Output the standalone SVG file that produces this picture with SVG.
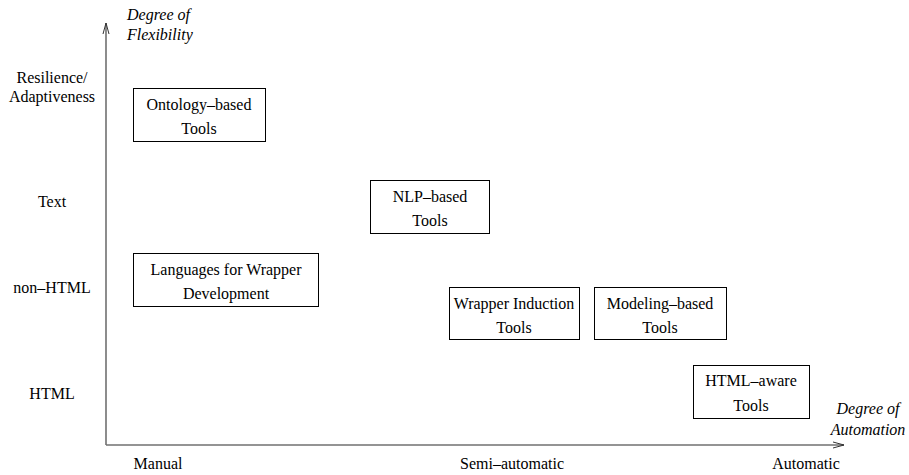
<svg xmlns="http://www.w3.org/2000/svg" width="909" height="475" viewBox="0 0 909 475">
<style>
text{font-family:"Liberation Serif","Times New Roman",serif;font-size:16px;fill:#000}
.c{text-anchor:middle}
.i{font-style:italic}
.box{fill:#fff;stroke:#000;stroke-width:1}
.axis{stroke:#707070;stroke-width:1.6;fill:none}
</style>
<defs>
<marker id="ah" markerWidth="12" markerHeight="8" refX="11" refY="4" orient="auto" markerUnits="userSpaceOnUse">
<path d="M0,1 L11,4 L0,7" fill="none" stroke="#333" stroke-width="1"/>
</marker>
</defs>
<rect width="909" height="475" fill="#fff"/>
<g id="connectors">
<line class="axis" x1="106" y1="445" x2="106" y2="23" marker-end="url(#ah)"/>
<line class="axis" x1="106" y1="445" x2="844" y2="445" marker-end="url(#ah)"/>
</g>
<g id="axis-labels">
<text class="i" x="127" y="20">Degree of</text>
<text class="i" x="127" y="40">Flexibility</text>
<text class="i c" x="868" y="414">Degree of</text>
<text class="i c" x="868" y="435">Automation</text>
<text class="c" x="52" y="83">Resilience/</text>
<text class="c" x="52" y="102">Adaptiveness</text>
<text class="c" x="52" y="207">Text</text>
<text class="c" x="52" y="293">non–HTML</text>
<text class="c" x="52" y="399">HTML</text>
<text class="c" x="158" y="469">Manual</text>
<text class="c" x="512" y="469">Semi–automatic</text>
<text class="c" x="806" y="469">Automatic</text>
</g>
<g id="ontology">
<rect class="box" x="133.5" y="88.5" width="132" height="53"/>
<text class="c" x="199" y="110">Ontology–based</text>
<text class="c" x="199" y="134">Tools</text>
</g>
<g id="nlp">
<rect class="box" x="370.5" y="180.5" width="119" height="53"/>
<text class="c" x="430" y="202">NLP–based</text>
<text class="c" x="430" y="226">Tools</text>
</g>
<g id="languages">
<rect class="box" x="133.5" y="253.5" width="185" height="53"/>
<text class="c" x="226" y="275">Languages for Wrapper</text>
<text class="c" x="226" y="299">Development</text>
</g>
<g id="wrapper-induction">
<rect class="box" x="449.5" y="287.5" width="130" height="52"/>
<text class="c" x="514" y="309">Wrapper Induction</text>
<text class="c" x="514" y="333">Tools</text>
</g>
<g id="modeling">
<rect class="box" x="594.5" y="287.5" width="132" height="52"/>
<text class="c" x="660" y="309">Modeling–based</text>
<text class="c" x="660" y="333">Tools</text>
</g>
<g id="html-aware">
<rect class="box" x="693.5" y="365.5" width="116" height="53"/>
<text class="c" x="751" y="386">HTML–aware</text>
<text class="c" x="751" y="411">Tools</text>
</g>
</svg>
